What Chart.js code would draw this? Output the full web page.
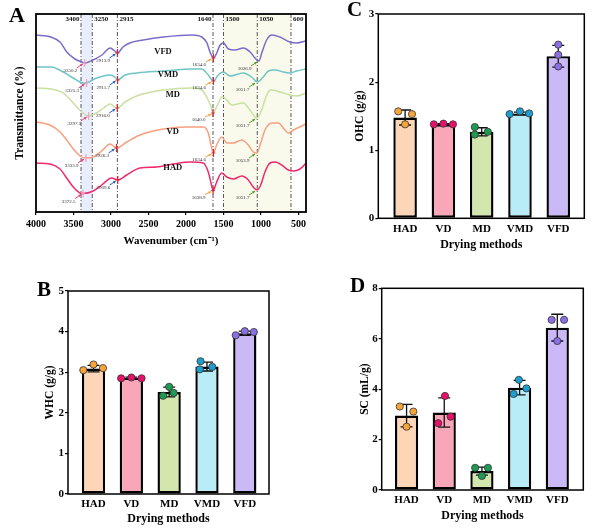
<!DOCTYPE html>
<html><head><meta charset="utf-8">
<script src="https://cdn.jsdelivr.net/npm/chart.js@4.4.1/dist/chart.umd.min.js"></script>
<style>
html,body{margin:0;padding:0;background:#fff;}
body{width:614px;height:532px;position:relative;overflow:hidden;}
canvas{position:absolute;}
.lt{position:absolute;font-family:'Liberation Serif','Times New Roman',serif;font-weight:bold;line-height:1;color:#000;}
</style></head><body>
<canvas id="cA" style="left:0;top:0;width:310px;height:250px" width="310" height="250"></canvas>
<canvas id="cB" style="left:0;top:270px;width:310px;height:262px" width="310" height="262"></canvas>
<canvas id="cC" style="left:310px;top:0;width:304px;height:262px" width="304" height="262"></canvas>
<canvas id="cD" style="left:310px;top:270px;width:304px;height:262px" width="304" height="262"></canvas>
<div class="lt" style="left:9px;top:4px;font-size:22px">A</div>
<div class="lt" style="left:37px;top:279px;font-size:21px">B</div>
<div class="lt" style="left:347px;top:-1px;font-size:21px">C</div>
<div class="lt" style="left:350px;top:275px;font-size:21px">D</div>
<script>
// ---------- Panel A : FTIR spectra ----------
const ftirNames = ['VFD', 'VMD', 'MD', 'VD', 'HAD'];
const vfdWn = [4000,3800,3680,3590,3480,3390,3350.2,3240,3120,3010,2950,2913.9,2840,2750,2570,2300,1920,1790,1720,1680,1634.6,1590,1545,1500,1435,1345,1235,1145,1080,1026.9,990,925,855,750,615,525,400];
const vfdT  = [177,175,170,160,153,150,149,152,157,164,161,159,165,169,172,175,177,175,169,160,154,159,167,169,163,162,164,160,154,151,159,172,177,175,170,169,171];
const vmdWn = [4000,3800,3636,3503,3370,3325.3,3300,3190,3010,2933,2911.7,2813,2657,2300,1924,1790,1703,1634.6,1570,1503,1413,1236,1124,1051.7,970,903,813,703,615,524,400];
const vmdT  = [145,145,140,134,129,129,130,134,137,134,132,137,139,141,143,143,137,131,137,140,136,139,135,130,135,141,142,140,139,141,143];
const mdWn  = [4000,3800,3636,3503,3390,3297.5,3190,3100,3010,2950,2916,2813,2657,2300,1924,1790,1724,1670,1640,1580,1520,1480,1390,1236,1147,1080,1051.7,991,924,866,747,613,524,400];
const mdT   = [124,123,119,109,100,96,99,104,108,105,104,110,116,122,124,122,115,106,99,107,115,114,107,109,102,95,94,102,117,122,120,117,116,119];
const vdWn  = [4000,3813,3680,3591,3503,3413,3333.9,3236,3124,3013,2950,2926.3,2791,2613,2300,2000,1769,1703,1657,1634.6,1591,1524,1457,1369,1257,1169,1103,1053.9,1004,947,858,769,680,636,569,400];
const vdT   = [90,87,80,72,63,56,54,55,61,68,65,64,70,77,83,85,85,79,64,59,67,75,69,69,72,67,60,59,69,82,89,89,82,79,82,88];
const hadWn = [4000,3813,3680,3591,3503,3413,3372.5,3236,3124,2991,2909.6,2791,2613,2391,2169,1947,1769,1703,1660,1638.9,1591,1524,1457,1369,1257,1169,1103,1051.7,1004,947,880,813,724,636,569,480,400];
const hadT  = [49,48,43,34,25,19,18.5,21,27,34,32,37,44,45,48,50,49,40,27,21.5,30,39,35,33,36,32,25,22,27,40,49,50,47,42,41,43,49];
const vfdPeaks = [3350.2, 2913.9, 1634.6, 1026.9];
const vmdPeaks = [3325.3, 2911.7, 1634.6, 1051.7];
const mdPeaks  = [3297.5, 2916.0, 1640.0, 1051.7];
const vdPeaks  = [3333.9, 2926.3, 1634.6, 1053.9];
const hadPeaks = [3372.5, 2909.6, 1638.9, 1051.7];
const markerWn = [3400, 3250, 2915, 1640, 1500, 1050, 600];
const blueBand = [3400, 3250];
const yellowBand = [1500, 600];
const wnTicks = [4000, 3500, 3000, 2500, 2000, 1500, 1000, 500];

// ---------- Panels B, C, D ----------
const methods = ['HAD', 'VD', 'MD', 'VMD', 'VFD'];
const whcMean = [3.09, 2.86, 2.51, 3.14, 3.96];
const whcSd   = [0.08, 0.02, 0.12, 0.11, 0.05];
const whcRep  = [[3.05,3.19,3.10],[2.85,2.87,2.85],[2.42,2.64,2.49],[3.07,3.27,3.13],[3.91,4.01,3.99]];
const whcRepX = [[-0.27,0,0.25],[-0.27,0,0.27],[-0.16,0,0.12],[-0.19,-0.17,0.14],[-0.24,0,0.24]];
const ohcMean = [1.48, 1.38, 1.27, 1.54, 2.38];
const ohcSd   = [0.11, 0.01, 0.06, 0.02, 0.16];
const ohcRep  = [[1.57,1.53,1.38],[1.38,1.39,1.38],[1.34,1.23,1.27],[1.53,1.57,1.54],[2.55,2.40,2.23]];
const ohcRepX = [[-0.18,0.18,0],[-0.25,0,0.25],[-0.18,-0.18,0.16],[-0.27,0,0.24],[0,0,0]];
const scMean  = [2.95, 3.07, 0.75, 4.06, 6.44];
const scSd    = [0.45, 0.58, 0.16, 0.29, 0.53];
const scRep   = [[3.31,3.11,2.51],[3.73,2.91,2.65],[0.88,0.88,0.56],[4.37,4.03,3.81],[6.75,6.75,5.91]];
const scRepX  = [[-0.18,0.18,0],[0.02,0.17,-0.16],[-0.18,0.16,0],[-0.02,0.18,-0.16],[-0.15,0.18,0]];

const serif = "'Liberation Serif', 'Times New Roman', serif";
const fnt = (size) => ({family: serif, size: size, weight: 'bold'});

const framePlugin = {
  id: 'frame',
  afterDraw(chart, args, opts) {
    const {ctx, chartArea: a} = chart;
    ctx.save();
    ctx.strokeStyle = '#000';
    ctx.lineWidth = opts.width || 1.5;
    ctx.strokeRect(a.left, a.top, a.right - a.left, a.bottom - a.top);
    ctx.restore();
  }
};

// ---------- FTIR chart ----------
const lineColors = ['#7B6CC8', '#6FC4C6', '#C9E0A2', '#F89F80', '#EE2A6C'];
const wnSets = [vfdWn, vmdWn, mdWn, vdWn, hadWn];
const tSets = [vfdT, vmdT, mdT, vdT, hadT];
const peakSets = [vfdPeaks, vmdPeaks, mdPeaks, vdPeaks, hadPeaks];

const ftirDeco = {
  id: 'ftirDeco',
  beforeDatasetsDraw(chart) {
    const {ctx, chartArea: a, scales: {x}} = chart;
    ctx.save();
    const band = (b, col) => {
      const p1 = x.getPixelForValue(b[0]), p2 = x.getPixelForValue(b[1]);
      ctx.fillStyle = col;
      ctx.fillRect(Math.min(p1, p2), a.top, Math.abs(p2 - p1), a.bottom - a.top);
    };
    band(blueBand, '#E8EEFB');
    band(yellowBand, '#F9F9EC');
    ctx.strokeStyle = '#444';
    ctx.lineWidth = 0.9;
    ctx.setLineDash([4, 2, 1, 2]);
    markerWn.forEach(w => {
      const px = x.getPixelForValue(w);
      ctx.beginPath(); ctx.moveTo(px, a.top); ctx.lineTo(px, a.bottom); ctx.stroke();
    });
    ctx.setLineDash([]);
    ctx.font = `bold 7px ${serif}`;
    ctx.fillStyle = '#111';
    ctx.textBaseline = 'middle';
    const leftSide = [3400, 1640];
    markerWn.forEach(w => {
      const px = x.getPixelForValue(w);
      const isLeft = leftSide.includes(w);
      ctx.textAlign = isLeft ? 'right' : 'left';
      ctx.fillText(String(w), px + (isLeft ? -1.5 : 2), a.top + 5);
    });
    ctx.restore();
  },
  afterDatasetsDraw(chart) {
    const {ctx, scales: {x, y}} = chart;
    const arrowCols = ['#F0407A', '#1F5FBF', '#F5A040', '#5AA02A'];
    const crossCols = ['#F4A3B6', '#D8232A', '#D8232A'];
    ctx.save();
    chart.data.datasets.forEach((ds, di) => {
      const meta = chart.getDatasetMeta(di);
      peakSets[di].forEach((w, g) => {
        const idx = ds.data.findIndex(p => p.x === w);
        if (idx < 0) return;
        const el = meta.data[idx];
        const px = el.x, py = el.y;
        if (g < 3) {
          ctx.strokeStyle = crossCols[g];
          ctx.lineWidth = 1.2;
          ctx.beginPath(); ctx.moveTo(px, py - 4); ctx.lineTo(px, py + 4); ctx.stroke();
          ctx.lineWidth = 0.8;
          ctx.beginPath(); ctx.moveTo(px - 2, py); ctx.lineTo(px + 2, py); ctx.stroke();
        }
        const dy = g === 2 ? 4 : 5;
        const x0 = px - 8, y0 = py + dy, x1 = px - 2, y1 = py + 1;
        ctx.strokeStyle = arrowCols[g];
        ctx.fillStyle = arrowCols[g];
        ctx.lineWidth = 1;
        ctx.beginPath(); ctx.moveTo(x0, y0); ctx.lineTo(x1, y1); ctx.stroke();
        const ang = Math.atan2(y1 - y0, x1 - x0);
        ctx.beginPath();
        ctx.moveTo(x1, y1);
        ctx.lineTo(x1 - 3 * Math.cos(ang - 0.5), y1 - 3 * Math.sin(ang - 0.5));
        ctx.lineTo(x1 - 3 * Math.cos(ang + 0.5), y1 - 3 * Math.sin(ang + 0.5));
        ctx.closePath(); ctx.fill();
        ctx.fillStyle = '#333';
        ctx.font = `5px ${serif}`;
        ctx.textAlign = 'right';
        ctx.textBaseline = 'middle';
        ctx.fillText(w.toFixed(1), px - 7.5, py + dy + 3);
      });
    });
    const labelPos = [[2307, 160], [2240, 137], [2177, 117], [2177, 80], [2177, 44]];
    ctx.font = `bold 8.5px ${serif}`;
    ctx.fillStyle = '#111';
    ctx.textAlign = 'center';
    ctx.textBaseline = 'middle';
    ftirNames.forEach((n, i) => {
      ctx.fillText(n, x.getPixelForValue(labelPos[i][0]), y.getPixelForValue(labelPos[i][1]));
    });
    ctx.restore();
  }
};

new Chart(document.getElementById('cA'), {
  type: 'line',
  data: {
    datasets: ftirNames.map((n, i) => ({
      label: n,
      data: wnSets[i].map((w, k) => ({x: w, y: tSets[i][k]})),
      borderColor: lineColors[i],
      borderWidth: 1.5,
      pointRadius: 0,
      fill: false,
      cubicInterpolationMode: 'monotone'
    }))
  },
  options: {
    responsive: false, animation: false, events: [],
    layout: {padding: {left: 0, top: 14, right: 4, bottom: 0}},
    plugins: {legend: {display: false}, tooltip: {enabled: false}, frame: {width: 1.8}},
    scales: {
      x: {
        type: 'linear', reverse: true, min: 400, max: 4000, offset: false,
        afterBuildTicks: s => { s.ticks = wnTicks.map(v => ({value: v})); },
        afterFit: s => { s.height = 38; },
        grid: {display: true, drawOnChartArea: false, drawTicks: true, tickLength: 3, color: '#000', lineWidth: 1.2},
        border: {display: false},
        ticks: {color: '#000', font: fnt(10), padding: 3, maxRotation: 0, autoSkip: false, callback: v => String(v)},
        title: {display: true, text: 'Wavenumber (cm⁻¹)', color: '#000', font: fnt(11), padding: {top: 0, bottom: 2}}
      },
      y: {
        type: 'linear', min: 0, max: 198,
        afterFit: s => { s.width = 36; },
        ticks: {display: false},
        grid: {display: false, drawTicks: false},
        border: {display: false},
        title: {display: true, text: 'Transmittance (%)', color: '#000', font: fnt(11.5), padding: {top: 13, bottom: 0}}
      }
    }
  },
  plugins: [ftirDeco, framePlugin]
});

// ---------- Bar charts ----------
const barFill = ['#FDD6B8', '#F9A6B8', '#D2E6AE', '#B8ECF7', '#CBB8F7'];
const dotFill = ['#F7A43A', '#E8106A', '#1F9A55', '#1E9ECF', '#8A6FE6'];

const errPlugin = {
  id: 'err',
  afterDatasetDraw(chart, args, opts) {
    if (args.index !== 0) return;
    const {ctx, scales: {x, y}} = chart;
    ctx.save();
    ctx.strokeStyle = '#111';
    ctx.lineWidth = 1.3;
    opts.mean.forEach((m, i) => {
      const px = x.getPixelForValue(i);
      const t = y.getPixelForValue(m + opts.sd[i]);
      const b = y.getPixelForValue(m - opts.sd[i]);
      ctx.beginPath();
      ctx.moveTo(px, t); ctx.lineTo(px, b);
      ctx.moveTo(px - 6, t); ctx.lineTo(px + 6, t);
      ctx.moveTo(px - 6, b); ctx.lineTo(px + 6, b);
      ctx.stroke();
    });
    ctx.restore();
  }
};

function barChart(id, mean, sd, rep, repX, yMax, yStep, yTitle, g) {
  const dots = [], dotCols = [];
  rep.forEach((arr, i) => arr.forEach((v, k) => { dots.push({x: i + repX[i][k], y: v}); dotCols.push(dotFill[i]); }));
  new Chart(document.getElementById(id), {
    type: 'bar',
    data: {
      datasets: [
        {type: 'bar', data: mean.map((m, i) => ({x: i, y: m})), backgroundColor: barFill,
         borderColor: '#000', borderWidth: 2.4, borderSkipped: false,
         barPercentage: 0.615, categoryPercentage: 1, order: 2},
        {type: 'scatter', data: dots, backgroundColor: dotCols, borderColor: '#333',
         borderWidth: 0.8, pointRadius: 3.6, order: 1}
      ]
    },
    options: {
      responsive: false, animation: false, events: [],
      layout: {padding: {left: 0, top: g.top, right: g.right, bottom: 0}},
      plugins: {legend: {display: false}, tooltip: {enabled: false}, frame: {width: 1.5}, err: {mean: mean, sd: sd}},
      scales: {
        x: {
          type: 'linear', min: g.xmin, max: g.xmax, offset: false,
          afterBuildTicks: s => { s.ticks = methods.map((m, i) => ({value: i})); },
          afterFit: s => { s.height = g.xh; },
          grid: {display: false, drawTicks: false, tickLength: 0},
          border: {display: false},
          ticks: {color: '#000', font: fnt(11), padding: 4, maxRotation: 0, autoSkip: false, callback: v => methods[v]},
          title: {display: true, text: 'Drying methods', color: '#000', font: fnt(12), padding: {top: 0, bottom: g.tb}}
        },
        y: {
          type: 'linear', min: 0, max: yMax,
          afterBuildTicks: s => { const t = []; for (let v = 0; v <= yMax; v += yStep) t.push({value: v}); s.ticks = t; },
          afterFit: s => { s.width = g.yw; },
          grid: {display: true, drawOnChartArea: false, drawTicks: true, tickLength: 3, color: '#000', lineWidth: 1.2},
          border: {display: false},
          ticks: {color: '#000', font: fnt(11), padding: 1},
          title: {display: true, text: yTitle, color: '#000', font: fnt(11.5), padding: {top: g.tp, bottom: 0}}
        }
      }
    },
    plugins: [errPlugin, framePlugin]
  });
}

barChart('cB', whcMean, whcSd, whcRep, whcRepX, 5, 1, 'WHC (g/g)',
  {top: 21, right: 41, xh: 38, yw: 68, tb: 5.5, tp: 43.5, xmin: -0.675, xmax: 4.64});
barChart('cC', ohcMean, ohcSd, ohcRep, ohcRepX, 3, 1, 'OHC (g/g)',
  {top: 14, right: 29.7, xh: 43.7, yw: 68.3, tb: 9.8, tp: 43.5, xmin: -0.70, xmax: 4.68});
barChart('cD', scMean, scSd, scRep, scRepX, 8, 2, 'SC (mL/g)',
  {top: 18.3, right: 30.7, xh: 42, yw: 71.7, tb: 9.1, tp: 48, xmin: -0.66, xmax: 4.69});
</script>
</body></html>
